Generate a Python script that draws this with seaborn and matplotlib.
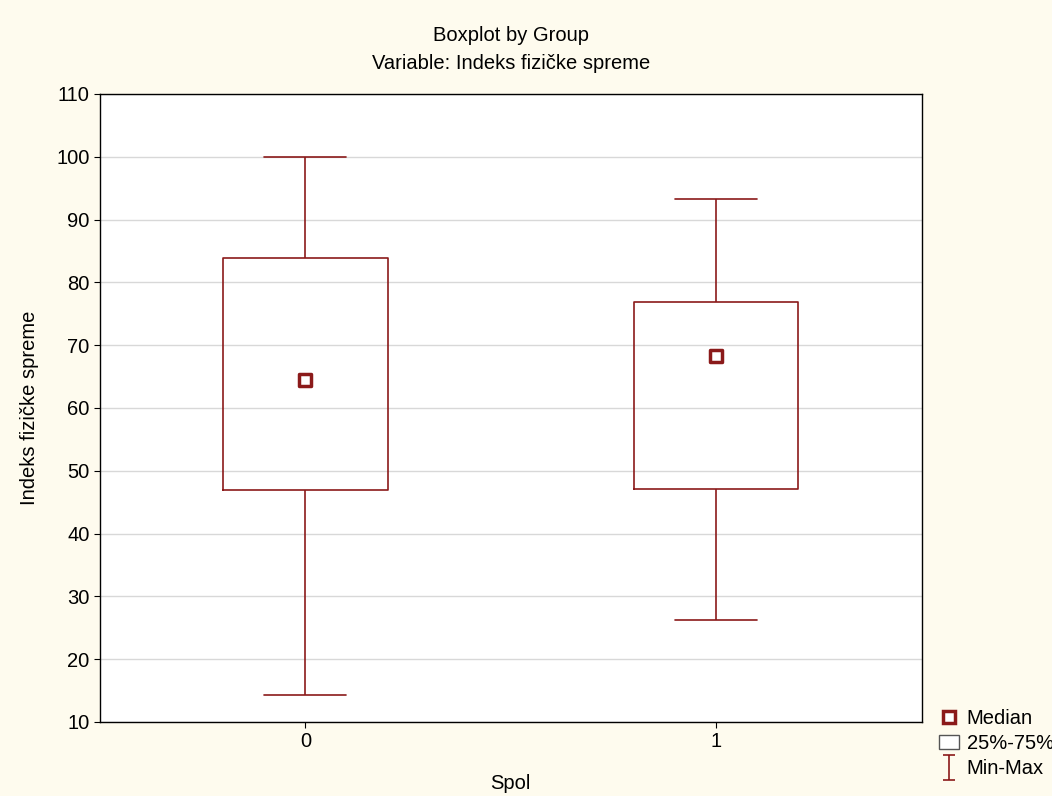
import numpy as np
import pandas as pd
import seaborn as sns
import matplotlib.pyplot as plt
from matplotlib.lines import Line2D
from matplotlib.patches import Rectangle
from matplotlib.path import Path

groups = ["0", "1"]
mins = [14.3, 26.3]
q1s = [47.0, 47.1]
medians = [64.5, 68.2]
q3s = [83.8, 76.9]
maxs = [100.0, 93.2]

# five points per group: with whis=(0,100) they give exactly these box stats
rows = []
for g, a, b, c, d, e in zip(groups, mins, q1s, medians, q3s, maxs):
    for v in (a, b, c, d, e):
        rows.append({"Spol": g, "val": v})
df = pd.DataFrame(rows)

red = "#8B1A1A"
sns.set_style("white")
plt.rcParams['font.family'] = ['Arial', 'Liberation Sans', 'DejaVu Sans']
plt.rcParams['text.color'] = "black"
plt.rcParams['axes.labelcolor'] = "black"
plt.rcParams['xtick.color'] = "black"
plt.rcParams['ytick.color'] = "black"
fig = plt.figure(figsize=(10.52, 7.96), dpi=100, facecolor="#FEFBEE")
ax = fig.add_axes([0.095, 0.093, 0.781, 0.789])
ax.set_facecolor("white")

sns.boxplot(data=df, x="Spol", y="val", order=groups, whis=(0, 100), width=0.4,
            fill=False, color=red, linewidth=1.2, showcaps=True,
            medianprops=dict(linewidth=0), ax=ax, zorder=3)
sns.scatterplot(x=groups, y=medians, marker="s", s=80, facecolor="white",
                edgecolor=red, linewidth=2.5, ax=ax, zorder=4)

ax.set_ylim(10, 110)
ax.set_yticks(range(10, 111, 10))
ax.set_xlim(-0.5, 1.5)
ax.yaxis.grid(True, color="#d8d8d8", linewidth=1)
ax.set_axisbelow(True)
for s in ax.spines.values():
    s.set_color("black")
    s.set_linewidth(1)
ax.tick_params(labelsize=14.5, length=4, direction="out", left=True, bottom=True)
ax.set_xlabel("Spol", fontsize=14.5, labelpad=16)
ax.set_ylabel("Indeks fizičke spreme", fontsize=14.5, labelpad=12)
ax.set_title("Boxplot by Group\nVariable: Indeks fizičke spreme", fontsize=14.5,
             pad=18, linespacing=1.6)

ibar = Path([(-0.5, 1), (0.5, 1), (0, 1), (0, -1), (-0.5, -1), (0.5, -1)],
            [Path.MOVETO, Path.LINETO, Path.MOVETO, Path.LINETO, Path.MOVETO, Path.LINETO])
handles = [
    Line2D([], [], marker="s", color="none", markerfacecolor="white",
           markeredgecolor=red, markeredgewidth=2.5, markersize=9),
    Rectangle((0, 0), 1, 1, facecolor="white", edgecolor="#555555"),
    Line2D([], [], marker=ibar, color=red, markersize=18, markeredgewidth=1.2,
           linestyle="none"),
]
fig.legend(handles, ["Median", "25%-75%", "Min-Max"], loc="lower left",
           bbox_to_anchor=(0.875, 0.0), frameon=False, fontsize=14.5,
           handlelength=1.0, handletextpad=0.4, labelspacing=0.3)

fig.savefig("out.png", dpi=100, facecolor=fig.get_facecolor())
